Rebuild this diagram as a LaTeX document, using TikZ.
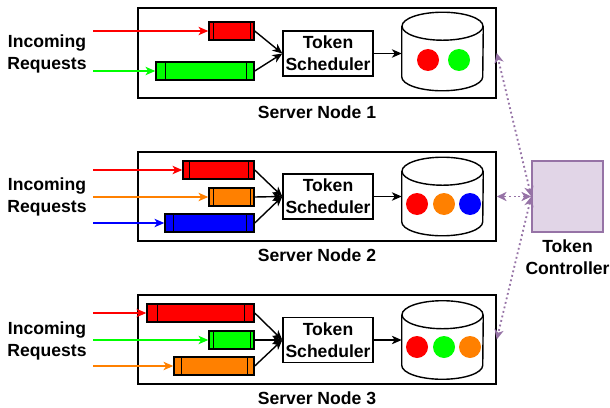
\documentclass[tikz,border=0pt]{standalone}
\usepackage{fontspec}
\setmainfont{Liberation Sans}
\usepackage{tikz}
\usetikzlibrary{arrows.meta,positioning}

\newcommand\px{0.025cm}
\definecolor{qred}{HTML}{FF0000}
\definecolor{qgreen}{HTML}{00FF00}
\definecolor{qorange}{HTML}{FF8000}
\definecolor{qblue}{HTML}{0000FF}
\definecolor{ctlfill}{HTML}{E1D5E7}
\definecolor{ctlline}{HTML}{9673A6}

\tikzset{
  every node/.style={font=\bfseries\fontsize{12.5}{15.4}\selectfont},
  boxline/.style={draw, line width=1pt},
  server/.style={boxline, minimum width=358*\px, inner sep=0pt},
  sched/.style={boxline, minimum width=90*\px, minimum height=45*\px, inner sep=0pt, align=center},
  queue/.style={boxline, minimum height=18*\px, inner sep=0pt},
  token/.style={circle, minimum size=22*\px, inner sep=0pt},
  dbbody/.style={minimum width=81*\px, minimum height=78*\px, inner sep=0pt},
  req/.style={line width=0.9pt, -{Stealth[length=7pt,width=6pt,inset=2pt]}},
  flow/.style={line width=1pt, -{Stealth[length=7pt,width=6pt,inset=2pt]}},
  ctl/.style={ctlline, dotted, line width=1.3pt, {Stealth[length=7pt,width=6.5pt,inset=2pt]}-{Stealth[length=7pt,width=6.5pt,inset=2pt]}},
  lbl/.style={align=center, inner sep=2pt}
}

% queue: name, colour, x1, x2, y, left bar, right bar
\newcommand\reqq[7]{%
  \node[queue, fill=#2, minimum width={(#4-#3)*\px}] (#1) at ({(#3+#4)/2},-#5) {};
  \draw[line width=1pt] ([xshift=#6*\px]#1.north west) -- ([xshift=#6*\px]#1.south west);
  \draw[line width=1pt] ([xshift=-#7*\px]#1.north east) -- ([xshift=-#7*\px]#1.south east);
  \coordinate (#1-in) at (93,-#5);
  \draw[req, #2] (#1-in) -- (#1);
}
% token store: name, centre y
\newcommand\tstore[2]{%
  \node[dbbody] (#1) at (442.5,-#2) {};
  \draw[line width=1pt] ([yshift=-14*\px]#1.north) ellipse [x radius=40.5*\px, y radius=14*\px];
  \draw[line width=1pt] ([yshift=-14*\px]#1.north west) -- ([yshift=14*\px]#1.south west)
    arc[start angle=180, end angle=360, x radius=40.5*\px, y radius=14*\px]
    -- ([yshift=-14*\px]#1.north east);
}

\begin{document}
\begin{tikzpicture}[x=0.025cm,y=0.025cm]
\useasboundingbox (0,0) rectangle (610,-407);

% server node 1
\node[server, minimum height=90*\px] (srv1) at (317,-53) {};
\node[lbl, below=2.5pt of srv1] (srv1lbl) {Server Node 1};
\node[lbl] (in1) at (47,-54) {Incoming\\Requests};
\node[sched] (sch1) at (328,-53.5) {Token\\Scheduler};
\reqq{q11}{qred}{209}{254}{31}{5}{4}
\reqq{q12}{qgreen}{156}{254}{71}{10}{8}
\foreach \q in {q11,q12} \draw[flow] (\q.east) -- (sch1.west);
\tstore{db1}{51.5}
\draw[flow] (sch1.east) -- (sch1.east -| db1.west);
\node[token, fill=qred] (t11) at (428,-60) {};
\node[token, fill=qgreen] (t12) at (459,-60) {};

% server node 2
\node[server, minimum height=89*\px] (srv2) at (317,-196.5) {};
\node[lbl, below=2.5pt of srv2] (srv2lbl) {Server Node 2};
\node[lbl] (in2) at (47,-197) {Incoming\\Requests};
\node[sched] (sch2) at (328,-196.5) {Token\\Scheduler};
\reqq{q21}{qred}{183}{254}{170}{7}{6}
\reqq{q22}{qorange}{209}{254}{197}{5}{4}
\reqq{q23}{qblue}{165}{254}{223}{9}{8}
\foreach \q in {q21,q22,q23} \draw[flow] (\q.east) -- (sch2.west);
\tstore{db2}{196.5}
\draw[flow] (sch2.east) -- (sch2.east -| db2.west);
\node[token, fill=qred] (t21) at (417,-204) {};
\node[token, fill=qorange] (t22) at (444,-204) {};
\node[token, fill=qblue] (t23) at (470,-204) {};

% server node 3
\node[server, minimum height=89*\px] (srv3) at (317,-339.5) {};
\node[lbl, below=2.5pt of srv3] (srv3lbl) {Server Node 3};
\node[lbl] (in3) at (47,-341) {Incoming\\Requests};
\node[sched] (sch3) at (328,-340) {Token\\Scheduler};
\reqq{q31}{qred}{147}{254}{313}{11}{10}
\reqq{q32}{qgreen}{209}{254}{340}{5}{4}
\reqq{q33}{qorange}{174}{254}{366}{8}{7}
\foreach \q in {q31,q32,q33} \draw[flow] (\q.east) -- (sch3.west);
\tstore{db3}{340}
\draw[flow] (sch3.east) -- (sch3.east -| db3.west);
\node[token, fill=qred] (t31) at (417,-347) {};
\node[token, fill=qgreen] (t32) at (444,-347) {};
\node[token, fill=qorange] (t33) at (470,-347) {};

% controller
\node[draw=ctlline, fill=ctlfill, line width=1pt, minimum size=71*\px, inner sep=0pt] (ctrl) at (567.5,-196.5) {};
\node[lbl, below=3pt of ctrl] (ctrllbl) {Token\\Controller};
\foreach \s in {srv1,srv2,srv3} \draw[ctl] (ctrl.west) -- (\s.east);
\end{tikzpicture}
\end{document}
